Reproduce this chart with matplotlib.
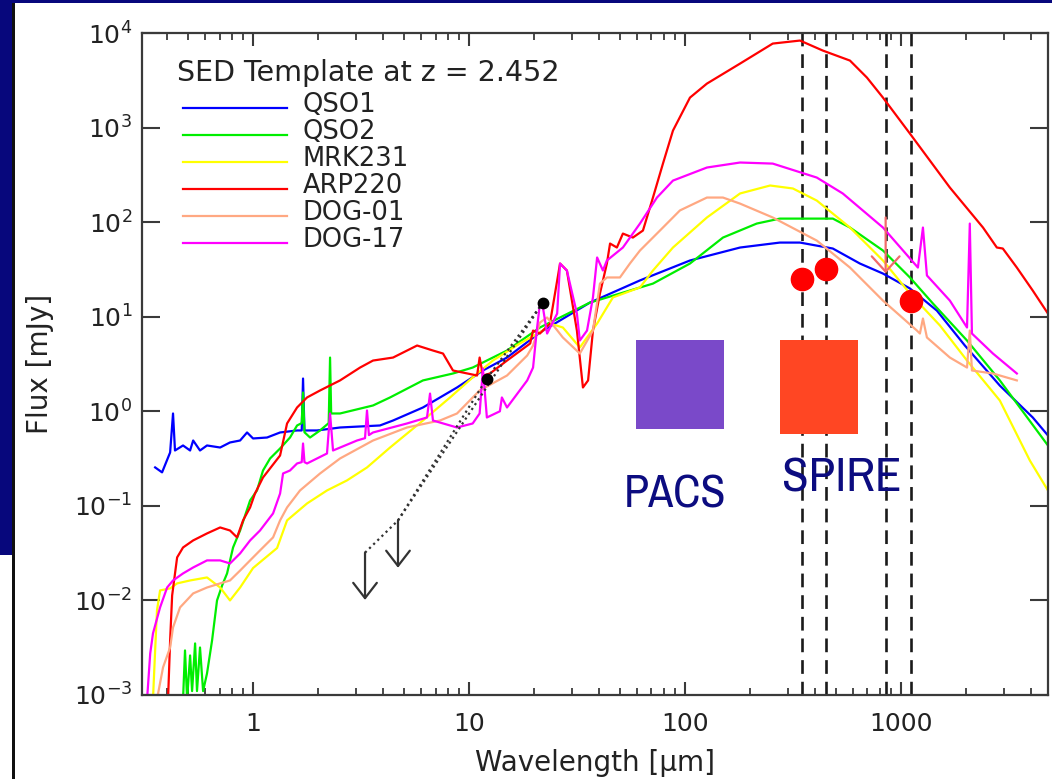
import matplotlib
matplotlib.use("Agg")
import matplotlib.pyplot as plt
from matplotlib.patches import Rectangle
from matplotlib.ticker import LogLocator, NullLocator, NullFormatter

plt.rcParams['font.family'] = ['DejaVu Sans']

# ---------------- data (wavelength in micron, flux in mJy) ----------------
series_names = ['QSO1', 'QSO2', 'MRK231', 'ARP220', 'DOG-01', 'DOG-17']
series_colors = ['#0000FF', '#00EE00', '#FFFF00', '#FF0000', '#FFA882', '#FF00FF']

qso1_wave = [0.352, 0.379, 0.413, 0.426, 0.435, 0.474, 0.511, 0.528, 0.568, 0.612,
             0.704, 0.782, 0.871, 0.938, 1.0, 1.161, 1.334, 1.599, 1.68, 1.704,
             1.73, 1.778, 1.978, 2.53, 3.87, 4.45, 6.12, 8.80, 11.6, 15.0,
             21.3, 36.3, 61.9, 105.5, 180, 275, 341, 484, 646, 826,
             1101, 1468, 1978, 2872, 4080, 4797]
qso1_flux = [0.255, 0.226, 0.367, 0.948, 0.385, 0.435, 0.385, 0.491, 0.385, 0.435,
             0.414, 0.468, 0.491, 0.597, 0.516, 0.528, 0.597, 0.627, 0.627, 2.22,
             0.627, 0.627, 0.627, 0.674, 0.708, 0.799, 1.097, 1.785, 2.70, 3.70,
             6.81, 14.1, 24.2, 39.3, 53.9, 60.8, 60.8, 52.6, 36.5, 28.6,
             19.9, 11.6, 4.96, 1.87, 0.860, 0.555]

qso2_wave = [0.474, 0.484, 0.495, 0.511, 0.522, 0.539, 0.550, 0.568, 0.587, 0.612,
             0.646, 0.681, 0.719, 0.758, 0.808, 0.871, 0.969, 1.043, 1.112, 1.199,
             1.334, 1.483, 1.599, 1.68, 1.704, 1.73, 1.836, 2.043, 2.24, 2.273,
             2.30, 2.528, 3.594, 4.308, 6.12, 8.43, 10.4, 15.0, 21.3, 36.3,
             71.1, 105.5, 150, 215, 275, 341, 484, 581, 826, 1101,
             1407, 2024, 2872, 4797]
qso2_flux = [0.0009, 0.00296, 0.0009, 0.00262, 0.0011, 0.00351, 0.0011, 0.00318, 0.0011, 0.00169,
             0.00378, 0.0100, 0.0144, 0.0193, 0.0363, 0.0549, 0.114, 0.1455, 0.2366, 0.317,
             0.4045, 0.528, 0.708, 0.75, 1.58, 0.60, 0.528, 0.627, 0.75, 3.70,
             0.948, 0.948, 1.152, 1.40, 2.12, 2.51, 2.90, 4.39, 7.69, 14.1,
             22.4, 36.5, 68.7, 96.6, 109, 109, 109, 87.7, 50.1, 26.0,
             13.8, 5.60, 2.12, 0.435]

mrk231_wave = [0.344, 0.352, 0.359, 0.371, 0.413, 0.445, 0.511, 0.612, 0.704, 0.782,
               0.871, 1.0, 1.137, 1.292, 1.437, 1.778, 2.20, 2.72, 3.37, 4.31,
               6.12, 8.17, 10.4, 12.9, 17.2, 22.0, 23.7, 27.2, 32.6, 39.2,
               46.4, 61.9, 71.1, 88.0, 126.4, 180, 248, 316, 408, 581,
               826, 1101, 1517, 2024, 2872, 3955, 4797]
mrk231_flux = [0.0009, 0.00296, 0.00784, 0.01276, 0.0134, 0.01514, 0.01626, 0.0175, 0.0137, 0.0100,
               0.0137, 0.0220, 0.0281, 0.0358, 0.0702, 0.106, 0.1455, 0.1856, 0.2546, 0.414,
               0.799, 1.40, 2.28, 3.44, 5.21, 7.14, 8.47, 7.69, 4.73, 8.47,
               16.0, 20.4, 30.8, 53.9, 112, 201, 244, 227, 169, 87.7,
               39.3, 17.6, 8.07, 3.44, 1.30, 0.302, 0.1455]

arp220_wave = [0.404, 0.413, 0.422, 0.445, 0.474, 0.528, 0.612, 0.704, 0.782, 0.843,
               0.899, 0.969, 1.021, 1.112, 1.334, 1.437, 1.599, 1.778, 2.043, 2.528,
               3.13, 3.594, 4.45, 5.75, 6.81, 7.58, 8.43, 10.9, 11.2, 11.6,
               12.5, 15.0, 19.2, 19.8, 21.3, 23.7, 26.4, 28.4, 31.6, 33.7,
               35.6, 37.5, 40.4, 43.5, 45.0, 48.4, 51.6, 57.4, 63.9, 71.1,
               79.1, 88.0, 105.5, 126.4, 180, 255, 341, 435, 581, 696,
               826, 1101, 1686, 2400, 2782, 2965, 3443, 4080, 4797]
arp220_flux = [0.0009, 0.00378, 0.0113, 0.0285, 0.0363, 0.0431, 0.0511, 0.0591, 0.0549, 0.0464,
               0.0702, 0.0962, 0.1352, 0.1996, 0.341, 0.743, 1.097, 1.40, 1.66, 2.12,
               2.90, 3.44, 3.70, 4.96, 4.39, 4.08, 2.70, 2.39, 3.70, 2.39,
               2.51, 3.44, 5.21, 7.14, 6.64, 8.47, 36.5, 30.8, 7.14, 1.785,
               2.12, 7.14, 17.6, 36.5, 59.4, 53.9, 75.7, 68.7, 81.5, 182,
               416, 929, 2074, 2917, 4750, 7730, 8320, 6520, 5110, 3380,
               2074, 864, 232, 87.7, 53.9, 52.6, 33.1, 18.9, 10.8]

dog01_wave = [0.359, 0.383, 0.413, 0.426, 0.459, 0.528, 0.612, 0.704, 0.782, 0.871,
              0.969, 1.077, 1.238, 1.334, 1.437, 1.650, 2.043, 2.528, 3.594, 5.16,
              7.34, 8.80, 11.2, 15.0, 18.6, 19.8, 21.3, 23.0, 27.2, 32.6,
              37.5, 40.4, 43.5, 50.0, 55.6, 61.9, 76.6, 94.8, 126.4, 150,
              180, 255, 408, 581, 826, 1186, 1225, 1265, 1320, 1686,
              2024, 2085, 2133, 2668, 3443]
dog01_flux = [0.0009, 0.00196, 0.00318, 0.00518, 0.00843, 0.01186, 0.0137, 0.01514, 0.01626, 0.0207,
              0.0265, 0.0338, 0.0464, 0.0702, 0.0962, 0.1455, 0.220, 0.317, 0.491, 0.674,
              0.799, 0.948, 1.66, 2.39, 3.89, 4.96, 8.68, 9.81, 6.03, 4.08,
              7.14, 22.4, 26.0, 26.0, 36.5, 50.1, 81.5, 133, 182, 182,
              157, 112, 63.8, 33.1, 14.8, 7.14, 6.64, 9.57, 6.03, 3.70,
              2.90, 7.14, 2.70, 2.51, 2.12]

dog17_wave = [0.323, 0.334, 0.344, 0.371, 0.400, 0.426, 0.474, 0.528, 0.612, 0.704,
              0.782, 0.871, 0.969, 1.077, 1.238, 1.334, 1.377, 1.483, 1.599, 1.68,
              1.704, 1.73, 1.778, 2.20, 2.273, 2.346, 3.03, 3.30, 3.37, 3.44,
              3.594, 5.16, 6.39, 6.60, 6.81, 8.80, 10.4, 11.2, 11.6, 12.1,
              13.9, 14.2, 15.0, 18.6, 19.8, 20.6, 21.3, 22.0, 23.0, 25.6,
              26.4, 28.4, 31.6, 32.6, 35.2, 37.5, 39.2, 41.7, 43.5, 51.6,
              61.9, 74.2, 88.0, 126.4, 180, 255, 408, 538, 826, 1199,
              1265, 1320, 1686, 2024, 2085, 2133, 2668, 3443]
dog17_flux = [0.0009, 0.00275, 0.00448, 0.00843, 0.0137, 0.01626, 0.0193, 0.0223, 0.0265, 0.0265,
              0.0246, 0.0314, 0.0431, 0.0549, 0.0832, 0.135, 0.220, 0.2366, 0.2807, 0.29,
              0.4566, 0.29, 0.2807, 0.358, 0.948, 0.385, 0.491, 0.52, 1.02, 0.56,
              0.597, 0.743, 0.860, 1.54, 0.799, 0.674, 0.743, 0.948, 2.83, 0.860,
              1.0, 1.40, 1.097, 2.12, 2.90, 7.14, 13.8, 12.5, 6.64, 10.8,
              36.5, 30.8, 10.8, 5.60, 7.14, 16.0, 42.3, 30.8, 39.3, 53.9,
              96.6, 182, 275, 378, 427, 416, 296, 201, 87.7, 33.1,
              87.7, 27.3, 14.8, 7.69, 96.6, 6.64, 4.08, 2.51]

series_waves = [qso1_wave, qso2_wave, mrk231_wave, arp220_wave, dog01_wave, dog17_wave]
series_fluxes = [qso1_flux, qso2_flux, mrk231_flux, arp220_flux, dog01_flux, dog17_flux]

# photometry of the source
limit_wave = [3.30, 4.69]          # upper limits (arrows)
limit_flux = [0.032, 0.070]
det_wave = [12.1, 22.0]            # detections (black dots)
det_flux = [2.22, 14.1]
submm_wave = [350, 450, 1110]      # red circles
submm_flux = [25.3, 32.3, 14.8]
submm_limit_wave = [850]
submm_limit_flux = [112]
band_lines = [350, 450, 850, 1110]  # dashed vertical lines

legend_title = 'SED Template at z = 2.452'
x_tick_values = [1, 10, 100, 1000]
x_tick_labels = ['1', '10', '100', '1000']
y_tick_values = [1e-3, 1e-2, 1e-1, 1e0, 1e1, 1e2, 1e3, 1e4]
box_labels = ['PACS', 'SPIRE']

# ---------------- figure ----------------
W, H = 1052, 779
fig = plt.figure(figsize=(W / 100, H / 100), dpi=100, facecolor='white')
navy = '#07077C'
narrow = ['Liberation Sans Narrow', 'Archivo Narrow', 'Liberation Sans']

ax = fig.add_axes([142 / W, 1 - 695 / H, (1048 - 142) / W, (695 - 33) / H])
ax.set_xscale('log')
ax.set_yscale('log')
ax.set_xlim(0.306, 4800)
ax.set_ylim(1e-3, 1e4)

for xv in band_lines:
    ax.axvline(xv, color='#1a1a1a', lw=1.9, ls=(0, (5.2, 3.0)), zorder=1)

for w, f, c in zip(series_waves, series_fluxes, series_colors):
    ax.plot(w, f, color=c, lw=1.6, zorder=2, solid_joinstyle='round')

# dotted connection of the photometry
ax.plot([limit_wave[0], limit_wave[1], det_wave[0], det_wave[1]],
        [limit_flux[0], limit_flux[1], det_flux[0], det_flux[1]],
        color='#333333', ls=(0, (1, 1.6)), lw=1.6, zorder=3)
ax.plot([limit_wave[1], det_wave[1]], [limit_flux[1], det_flux[1]],
        color='#333333', ls=(0, (1, 1.6)), lw=1.6, zorder=3)
ax.plot(det_wave, det_flux, 'o', color='black', ms=7.5, zorder=4)

for w, f in zip(limit_wave, limit_flux):
    ax.annotate('', xy=(w, f / 10 ** 0.5), xytext=(w, f),
                arrowprops=dict(arrowstyle='->,head_length=1.1,head_width=0.85',
                                color='#333333', lw=1.6, shrinkA=0, shrinkB=0,
                                mutation_scale=10), zorder=4)

for w, f in zip(submm_limit_wave, submm_limit_flux):
    ax.annotate('', xy=(w, f / 10 ** 0.59), xytext=(w, f),
                arrowprops=dict(arrowstyle='->,head_length=1.1,head_width=1.0',
                                color='#F26A6A', lw=1.6, shrinkA=0, shrinkB=0,
                                mutation_scale=10), zorder=4)

ax.plot(submm_wave, submm_flux, 'o', color='#FF0000', ms=16, zorder=5)

# axes styling
for s in ax.spines.values():
    s.set_color('#3a3a3a')
    s.set_linewidth(1.6)
ax.set_xticks(x_tick_values, labels=x_tick_labels)
ax.xaxis.set_minor_locator(LogLocator(base=10, subs=[2, 3, 4, 5, 6, 7, 8, 9], numticks=20))
ax.xaxis.set_minor_formatter(NullFormatter())
ax.set_yticks(y_tick_values)
ax.yaxis.set_minor_locator(NullLocator())
ax.tick_params(axis='both', which='both', direction='in', top=True, right=True,
               colors='#3a3a3a', labelcolor='#222222', labelsize=18)
ax.tick_params(axis='x', which='major', length=9.5, width=1.5, pad=12)
ax.tick_params(axis='x', which='minor', length=5, width=1.3)
ax.tick_params(axis='y', which='major', length=13, width=1.5, pad=7)

ax.set_xlabel('Wavelength [μm]', fontsize=20, color='#222222')
ax.xaxis.set_label_coords(0.5, -0.082)
ax.set_ylabel('Flux [mJy]', fontsize=20, color='#222222')
ax.yaxis.set_label_coords(-0.097, 0.5)

# legend drawn manually
ax.text(0.0386, 0.9396, legend_title, transform=ax.transAxes, fontsize=20.5,
        color='#222222', ha='left', va='center')
for i, (name, c) in enumerate(zip(series_names, series_colors)):
    yy = 0.8867 - i * 0.0408
    ax.plot([0.0453, 0.160], [yy, yy], transform=ax.transAxes, color=c, lw=1.6)
    ax.text(0.1777, yy + 0.004, name, transform=ax.transAxes, fontsize=18.5,
            color='#222222', ha='left', va='center')

# slide decorations
fig.add_artist(Rectangle((0, 1 - 3 / H), 1, 3 / H, transform=fig.transFigure,
                         facecolor=navy, edgecolor='none', zorder=5))
fig.add_artist(Rectangle((0, 1 - 555 / H), 12 / W, 555 / H, transform=fig.transFigure,
                         facecolor=navy, edgecolor='none', zorder=5))
fig.add_artist(Rectangle((12 / W, 0), 2.5 / W, 1 - 3 / H, transform=fig.transFigure,
                         facecolor='#101010', edgecolor='none', zorder=5))
fig.add_artist(Rectangle((636 / W, 1 - 429 / H), 88 / W, 89 / H, transform=fig.transFigure,
                         facecolor='#7A49C9', edgecolor='none', zorder=5))
fig.add_artist(Rectangle((780 / W, 1 - 434 / H), 78 / W, 94 / H, transform=fig.transFigure,
                         facecolor='#FF4623', edgecolor='none', zorder=5))
fig.text(674.5 / W, 1 - 507 / H, box_labels[0], fontsize=33, color='#0C0C80',
         family=narrow, ha='center', va='baseline', zorder=6)
fig.text(841.5 / W, 1 - 492 / H, box_labels[1], fontsize=35, color='#0C0C80',
         family=narrow, ha='center', va='baseline', zorder=6)

fig.savefig('out.png', dpi=100, facecolor='white')
